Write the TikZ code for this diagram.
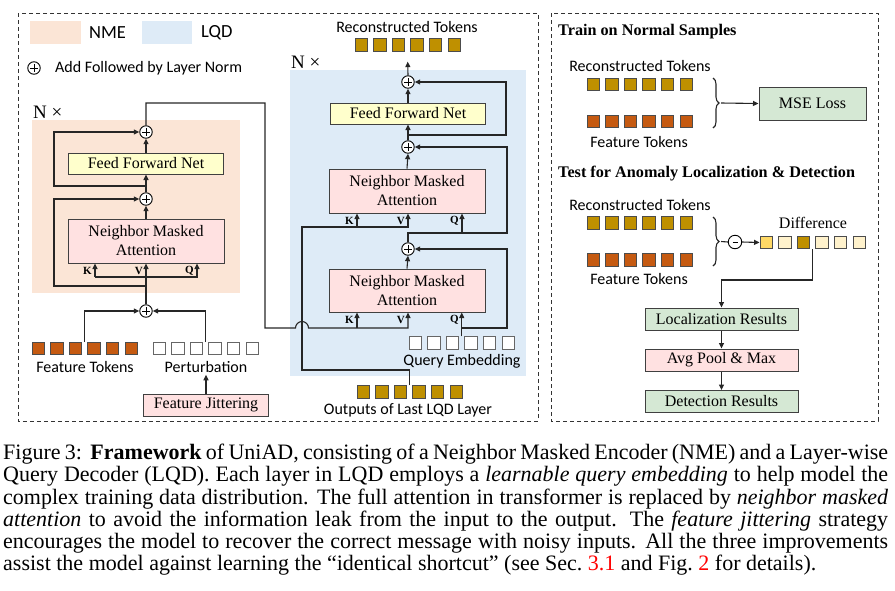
\documentclass[tikz,border=0pt]{standalone}
\usepackage{fontspec}
\setmainfont{Liberation Serif}
\newfontfamily\calibfont{Carlito}
\usetikzlibrary{calc}
\usetikzlibrary{positioning}
\usetikzlibrary{arrows.meta}
\usetikzlibrary{decorations.pathreplacing}

\definecolor{nmebg}{HTML}{FBE5D6}
\definecolor{lqdbg}{HTML}{DEEBF7}
\definecolor{attfill}{HTML}{FFE1E1}
\definecolor{ffnfill}{HTML}{FFFFCC}
\definecolor{resfill}{HTML}{D5E8D4}
\definecolor{feattok}{HTML}{C55A11}
\definecolor{recotok}{HTML}{BF9000}
\definecolor{diffhi}{HTML}{FFD966}
\definecolor{difflo}{HTML}{FFF2CC}

\tikzset{
  conn/.style={line width=1.1pt, black!85},
  arr/.style={conn, -{Triangle[length=5.5pt,width=5pt]}},
  tok/.style={draw=black!70, line width=0.9pt, minimum size=12.4pt, inner sep=0pt},
  addnorm/.style={circle, draw, line width=0.9pt, fill=white, minimum size=12.5pt, inner sep=0pt,
    path picture={\draw[line width=0.8pt] ([xshift=-3.6pt]path picture bounding box.center) -- ([xshift=3.6pt]path picture bounding box.center)
      ([yshift=-3.6pt]path picture bounding box.center) -- ([yshift=3.6pt]path picture bounding box.center);}},
  subnorm/.style={circle, draw, line width=0.9pt, fill=white, minimum size=13.5pt, inner sep=0pt,
    path picture={\draw[line width=0.8pt] ([xshift=-2.5pt]path picture bounding box.center) -- ([xshift=2.5pt]path picture bounding box.center);}},
  blockbox/.style={draw=black!75, line width=1pt, inner sep=0pt, align=center, font=\fontsize{16}{19}\selectfont},
  attbox/.style={blockbox, fill=attfill, minimum width=156pt, minimum height=44pt},
  ffnbox/.style={blockbox, fill=ffnfill, minimum width=155pt, minimum height=21pt},
  resbox/.style={blockbox, fill=resfill, minimum width=153pt, minimum height=22pt},
  panel/.style={draw=black!80, line width=0.9pt, dash pattern=on 4pt off 3pt},
  lbl/.style={font=\calibfont\fontsize{16}{18}\selectfont, inner sep=0pt},
  kvq/.style={font=\bfseries\fontsize{11}{12}\selectfont, inner sep=0pt, anchor=east},
  head/.style={font=\bfseries\fontsize{16.2}{18}\selectfont, inner sep=0pt, anchor=west},
  bigN/.style={font=\fontsize{19}{20}\selectfont, inner sep=0pt, anchor=west},
}

\begin{document}
\begin{tikzpicture}[x=1pt, y=-1pt]
  \useasboundingbox (0,0) rectangle (895,590);

  % panels and backgrounds
  \draw [panel] (18,13) rectangle (538,421);
  \draw [panel] (551,13) rectangle (878,421);
  \fill [nmebg] (32,120) rectangle (240,293);
  \fill [lqdbg] (290,70) rectangle (526,376);

  % legend
  \fill [nmebg] (30,21) rectangle (81,44);
  \node [lbl, anchor=west, font=\calibfont\fontsize{18.5}{20}\selectfont] (legnme) at (89,33) {NME};
  \fill [lqdbg] (142,21) rectangle (192,44);
  \node [lbl, anchor=west, font=\calibfont\fontsize{18.5}{20}\selectfont] (leglqd) at (201,33) {LQD};
  \node [addnorm] (legadd) at (34,68) {};
  \node [lbl, anchor=west] (legaddtxt) at (55,68) {Add Followed by Layer Norm};

  % neighbor masked encoder
  \node [bigN] (nmeN) at (33,112) {N ×};
  \node [attbox] (nmeatt) at (146,241) {Neighbor Masked\\Attention};
  \node [ffnbox] (nmeffn) at (146,163.5) {Feed Forward Net};
  \node [addnorm] (nmeaddA) at (146,311) {};
  \node [addnorm] (nmeaddB) at (146,199) {};
  \node [addnorm] (nmeaddC) at (146,132) {};

  \foreach \i in {1,...,6} \node [tok, fill=feattok] (ft\i) at ({38.2+(\i-1)*18.6},348.5) {};
  \foreach \i in {1,...,6} \node [tok, fill=white, draw=black!60] (pt\i) at ({159.2+(\i-1)*18.6},348.5) {};
  \node [lbl] (ftlbl) at (85,367) {Feature Tokens};
  \node [lbl] (ptlbl) at (206,367) {Perturbation};
  \node [blockbox, fill=attfill, minimum width=125pt, minimum height=22pt] (jitter) at (206,405) {Feature Jittering};

  \coordinate (ftmid) at ($(ft3.north)!.5!(ft4.north)$);
  \coordinate (ptmid) at ($(pt3.north)!.5!(pt4.north)$);
  \draw [arr] (ftmid) |- (nmeaddA.west);
  \draw [arr] (ptmid) |- (nmeaddA.east);
  \draw [arr] (jitter.north) -- ([yshift=-2pt]ptlbl.south);

  \coordinate (nmek) at (95,277);
  \coordinate (nmev) at (146,277);
  \coordinate (nmeq) at (197,277);
  \coordinate (nmeskipA) at (146,286);
  \coordinate (nmeskipB) at (146,186);
  \draw [arr] (nmeaddA.north) -- (nmeatt.south);
  \draw [arr] (nmek) -- (nmeatt.south -| nmek);
  \draw [arr] (nmek) -- (nmeq) -- (nmeatt.south -| nmeq);
  \draw [arr] (nmeskipA) -| (54,199) -- (nmeaddB.west);
  \draw [arr] (nmeatt.north) -- (nmeaddB.south);
  \draw [arr] (nmeaddB.north) -- (nmeffn.south);
  \draw [arr] (nmeffn.north) -- (nmeaddC.south);
  \draw [arr] (nmeskipB) -| (54,132) -- (nmeaddC.west);
  \node [kvq] (nmeklbl) at (92,271) {K};
  \node [kvq] (nmevlbl) at (143,271) {V};
  \node [kvq] (nmeqlbl) at (194,271) {Q};

  % layer-wise query decoder
  \node [bigN] (lqdN) at (291,62) {N ×};
  \node [lbl] (rtlbl) at (407,27) {Reconstructed Tokens};
  \foreach \i in {1,...,6} \node [tok, fill=recotok] (rt\i) at ({361.2+(\i-1)*18.6},45) {};
  \node [attbox] (lqdattU) at (407,191) {Neighbor Masked\\Attention};
  \node [attbox, minimum height=43pt] (lqdattL) at (407,290.5) {Neighbor Masked\\Attention};
  \node [ffnbox] (lqdffn) at (408,113.5) {Feed Forward Net};
  \node [addnorm] (lqdaddA) at (408,249) {};
  \node [addnorm] (lqdaddB) at (408,147) {};
  \node [addnorm] (lqdaddC) at (408,82) {};

  \foreach \i in {1,...,6} \node [tok, fill=white, draw=black!60] (qe\i) at ({415.2+(\i-1)*18.6},343) {};
  \node [lbl] (qelbl) at (462,361) {Query Embedding};
  \foreach \i in {1,...,6} \node [tok, fill=recotok] (ot\i) at ({363.2+(\i-1)*18.6},392) {};
  \node [lbl] (otlbl) at (408,410) {Outputs of Last LQD Layer};

  % encoder output into the decoder, hopping over the last-layer line
  \coordinate (nmeturn) at (265,103);
  \coordinate (bridge) at (265,328);
  \coordinate (hopin) at (295.5,328);
  \coordinate (lkL) at (357,328);
  \coordinate (lvL) at (408,328);
  \draw [arr] (nmeaddC.north) |- (nmeturn) -- (bridge) -- (hopin)
    arc [start angle=180, end angle=360, radius=6.5] -- (lvL) -- (lqdattL.south -| lvL);
  \draw [arr] (lkL) -- (lqdattL.south -| lkL);

  \coordinate (qemid) at ($(qe3.north)!.5!(qe4.north)$);
  \coordinate (lqL) at (462,328);
  \draw [arr] (qemid) -- (lqdattL.south -| qemid);
  \draw [arr] (lqL) -| (507,249) -- (lqdaddA.east);
  \draw [arr] (lqdattL.north) -- (lqdaddA.south);

  \coordinate (uq) at (462,233);
  \draw [arr] (lqdaddA.north) |- (uq) -- (lqdattU.south -| uq);
  \draw [arr] (uq) -| (507,147) -- (lqdaddB.east);

  \coordinate (otmid) at ($(ot3.north)!.5!(ot4.north)$);
  \coordinate (ukvturn) at (302,370);
  \coordinate (uk) at (357,227);
  \coordinate (uv) at (408,227);
  \draw [arr] (otmid) |- (ukvturn) |- (uv) -- (lqdattU.south -| uv);
  \draw [arr] (uk) -- (lqdattU.south -| uk);

  \coordinate (lqdskip) at (408,135);
  \draw [arr] (lqdattU.north) -- (lqdaddB.south);
  \draw [arr] (lqdaddB.north) -- (lqdffn.south);
  \draw [arr] (lqdffn.north) -- (lqdaddC.south);
  \draw [arr] (lqdskip) -| (506,82) -- (lqdaddC.east);
  \draw [arr] (lqdaddC.north) -- ($(rt3.south)!.5!(rt4.south)+(0,10)$);

  \node [kvq] (uklbl) at (354,221) {K};
  \node [kvq] (uvlbl) at (405,221) {V};
  \node [kvq] (uqlbl) at (459,221) {Q};
  \node [kvq] (lklbl) at (354,320) {K};
  \node [kvq] (lvlbl) at (405,320) {V};
  \node [kvq] (lqlbl) at (459,320) {Q};

  % train / test panel
  \node [head] (trainhd) at (558,32) {Train on Normal Samples};
  \node [lbl] (trrtlbl) at (640,66) {Reconstructed Tokens};
  \foreach \i in {1,...,6} \node [tok, fill=recotok] (trrt\i) at ({593.2+(\i-1)*18.6},84.5) {};
  \foreach \i in {1,...,6} \node [tok, fill=feattok] (trft\i) at ({593.2+(\i-1)*18.6},121.5) {};
  \node [lbl] (trftlbl) at (639,142) {Feature Tokens};
  \draw [conn, decorate, decoration={brace, amplitude=6pt}] (713,78) -- (713,128);
  \coordinate (trainbrace) at (721,103);
  \node [blockbox, fill=resfill, minimum width=107pt, minimum height=33pt] (mse) at (812.5,103.5) {MSE Loss};
  \draw [arr] (trainbrace) -- (mse.west);

  \node [head] (testhd) at (558,174) {Test for Anomaly Localization \& Detection};
  \node [lbl] (tertlbl) at (640,205) {Reconstructed Tokens};
  \foreach \i in {1,...,6} \node [tok, fill=recotok] (tert\i) at ({593.2+(\i-1)*18.6},223) {};
  \foreach \i in {1,...,6} \node [tok, fill=feattok] (teft\i) at ({593.2+(\i-1)*18.6},260) {};
  \node [lbl] (teftlbl) at (639,279) {Feature Tokens};
  \draw [conn, decorate, decoration={brace, amplitude=6pt}] (713,217) -- (713,266);
  \coordinate (testbrace) at (721,241.5);
  \node [subnorm] (diffop) at (735,242) {};
  \draw [conn] (testbrace) -- (diffop.west);
  \foreach \i/\c in {1/diffhi,2/difflo,3/recotok,4/difflo,5/difflo,6/difflo}
    \node [tok, fill=\c] (dt\i) at ({766.2+(\i-1)*18.6},242.5) {};
  \draw [arr] (diffop.east) -- (dt1.west);
  \node [font=\fontsize{16}{18}\selectfont, inner sep=0pt] (difflbl) at (813,223) {Difference};

  \node [resbox] (loc) at (721.5,319) {Localization Results};
  \node [blockbox, fill=attfill, minimum width=153pt, minimum height=22pt] (pool) at (721.5,360) {Avg Pool \& Max};
  \node [resbox] (det) at (721.5,401.5) {Detection Results};
  \coordinate (dtmid) at ($(dt3.south)!.5!(dt4.south)$);
  \coordinate (diffturn) at (721.5,280);
  \draw [arr] (dtmid) |- (diffturn) -- (loc.north);
  \draw [arr] (loc.south) -- (pool.north);
  \draw [arr] (pool.south) -- (det.north);

  % caption
  \node [anchor=north west, align=left, inner sep=0pt, font=\fontsize{22}{22.2}\selectfont] (caption) at (3,444) {%
    \makebox[885pt][s]{Figure 3:\ \ \textbf{Framework} of UniAD, consisting of a Neighbor Masked Encoder (NME) and a Layer-wise}\\
    \makebox[885pt][s]{Query Decoder (LQD). Each layer in LQD employs a \textit{learnable query embedding} to help model the}\\
    \makebox[885pt][s]{complex training data distribution. The full attention in transformer is replaced by \textit{neighbor masked}}\\
    \makebox[885pt][s]{\textit{attention} to avoid the information leak from the input to the output. The \textit{feature jittering} strategy}\\
    \makebox[885pt][s]{encourages the model to recover the correct message with noisy inputs. All the three improvements}\\
    assist the model against learning the ``identical shortcut'' (see Sec.~\textcolor{red}{3.1} and Fig.~\textcolor{red}{2} for details).};
\end{tikzpicture}
\end{document}
